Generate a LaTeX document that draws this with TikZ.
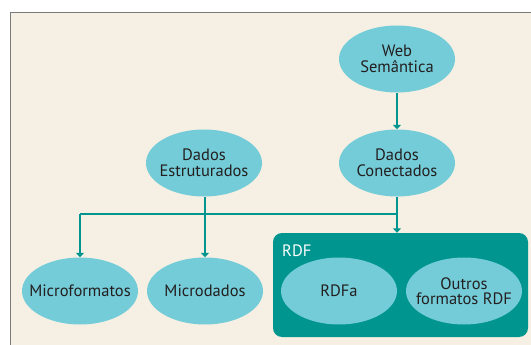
\documentclass[tikz,border=0pt]{standalone}
\usepackage{fontspec}
\setmainfont{PT Sans}
\usetikzlibrary{arrows.meta,shapes.geometric}
\definecolor{bgc}{HTML}{F5F0E3}
\definecolor{ellc}{HTML}{74CCD8}
\definecolor{tealc}{HTML}{00968F}
\definecolor{txtc}{HTML}{231F20}
\definecolor{framec}{HTML}{7A7A7A}
\tikzset{
  ell/.style={ellipse, fill=ellc, minimum width=116pt, minimum height=67pt,
     inner xsep=-20pt, inner ysep=-8pt,
     text=txtc, font=\fontsize{16.5}{15.5}\selectfont, align=center},
  conn/.style={draw=tealc, line width=1.2pt, -{Triangle[width=8pt,length=4.5pt]}},
  plain/.style={draw=tealc, line width=1.2pt},
}
\begin{document}
\begin{tikzpicture}[x=1pt,y=-1pt]
\useasboundingbox (0,0) rectangle (531,345);
\fill[white] (0,0) rectangle (531,345);
\fill[bgc] (10,13) rectangle (531,345);
\draw[framec, line width=1pt] (10,345) -- (10,13) -- (531,13);
% RDF box
\node[draw=none, fill=tealc, rounded corners=9pt, minimum width=255pt, minimum height=104pt, inner sep=0pt] (rdf) at (400.5,285) {};
\node[anchor=base west, text=white, font=\fontsize{16.5}{16}\selectfont, inner sep=0pt] (rdflbl) at (282,256) {RDF};
\node[ell] (web) at (397,59) {Web\\Semântica};
\node[ell] (dc) at (397,163) {Dados\\Conectados};
\node[ell] (de) at (204,163) {Dados\\Estruturados};
\node[ell] (mf) at (80,291) {Microformatos};
\node[ell] (md) at (205,291) {Microdados};
\node[ell] (rdfa) at (339,291) {RDFa};
\node[ell] (out) at (464,291) {Outros\\formatos RDF};
\coordinate (j) at (397,214);
\coordinate (l) at (80,214);
\draw[conn] (web) -- (dc);
\draw[conn] (dc) -- (rdf.north -| dc);
\draw[plain] (j) -- (l);
\draw[conn] (l) -- (mf);
\draw[conn] (de.south -| md) -- (md);
\end{tikzpicture}
\end{document}
